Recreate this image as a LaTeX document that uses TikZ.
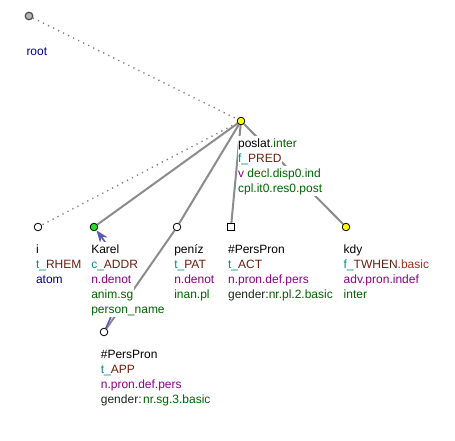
\documentclass[tikz,border=0pt]{standalone}
\usepackage{fontspec}
\setmainfont{Liberation Sans}
\usetikzlibrary{arrows.meta,backgrounds}
\definecolor{tfa}{HTML}{008B8B}
\definecolor{fun}{HTML}{6B1E10}
\definecolor{funb}{HTML}{A03020}
\definecolor{sem}{HTML}{8B008B}
\definecolor{gram}{HTML}{006400}
\definecolor{nav}{HTML}{00008B}
\definecolor{gname}{HTML}{1E2A1E}
\definecolor{edgegray}{HTML}{8C8C8C}
\definecolor{corefblue}{HTML}{5A5AB4}
\definecolor{rootgray}{HTML}{B4B4B4}
\definecolor{nodeyellow}{HTML}{FFFF00}
\definecolor{nodegreen}{HTML}{22E022}
\newcommand\Ctfa[1]{\textcolor{tfa}{#1}}
\newcommand\Cfun[1]{\textcolor{fun}{#1}}
\newcommand\Cfunb[1]{\textcolor{funb}{#1}}
\newcommand\Csem[1]{\textcolor{sem}{#1}}
\newcommand\Cgram[1]{\textcolor{gram}{#1}}
\newcommand\Cnav[1]{\textcolor{nav}{#1}}
\newcommand\Cgname[1]{\textcolor{gname}{#1}}
\newcommand\labelstack[4]{%
  \foreach \t [count=\k] in {#4} {%
    \node[lbl] (#1-\k) at (#2,{#3+15*(\k-1)}) {\t};%
  }%
}
\tikzset{
  tnode/.style={circle, draw=black, line width=0.8pt, minimum size=7.6pt, inner sep=0pt},
  snode/.style={rectangle, draw=black, line width=0.8pt, minimum size=7.6pt, inner sep=0pt, fill=white},
  lbl/.style={anchor=base west, inner xsep=0.3pt, inner ysep=0pt, fill=white, text height=11pt, text depth=4pt},
  edg/.style={draw=edgegray, line width=2pt},
  dotedge/.style={draw=edgegray!90!black, line width=1.4pt, dash pattern=on 1.2pt off 4.4pt},
  corefarrow/.style={draw=corefblue, line width=1.6pt, -{Stealth[length=12pt,width=9pt,inset=3.5pt]}},
}
\begin{document}
\begin{tikzpicture}[x=1pt,y=-1pt,font=\fontsize{12}{15}\selectfont]
\useasboundingbox (0,0) rectangle (455,441);
% nodes
\node[tnode, fill=rootgray, draw=black!70, line width=1.2pt] (root) at (29,16) {};
\node[tnode, fill=nodeyellow] (poslat) at (241,121) {};
\node[tnode, fill=white] (i) at (38,227) {};
\node[tnode, fill=nodegreen] (karel) at (94,227) {};
\node[tnode, fill=white] (peniz) at (177,227) {};
\node[snode] (act) at (231,227) {};
\node[tnode, fill=nodeyellow] (kdy) at (346,227) {};
\node[tnode, fill=white] (app) at (104,332) {};
% labels
\node[lbl] (root-1) at (26,56) {\Cnav{root}};
\labelstack{poslatlbl}{237.6}{147}{poslat\Cgram{.inter},\Ctfa{f\_}\Cfun{PRED},\Csem{v}\ \Cgram{decl.disp0.ind},\Cgram{cpl.it0.res0.post}}
\labelstack{ilbl}{35.5}{253}{i,\Ctfa{t\_}\Cfun{RHEM},\Cnav{atom}}
\labelstack{karellbl}{90.8}{253}{Karel,\Ctfa{c\_}\Cfun{ADDR},\Csem{n.denot},\Cgram{anim.sg},\Cgram{person\_name}}
\labelstack{penizlbl}{173.8}{253}{peníz,\Ctfa{t\_}\Cfun{PAT},\Csem{n.denot},\Cgram{inan.pl}}
\labelstack{actlbl}{227.6}{253}{\#PersPron,\Ctfa{t\_}\Cfun{ACT},\Csem{n.pron.def.pers},\Cgname{gender:}\Cgram{nr.pl.2.basic}}
\labelstack{kdylbl}{343.2}{253}{kdy,\Ctfa{f\_}\Cfun{TWHEN}\Cfunb{.basic},\Csem{adv.pron.indef},\Cgram{inter}}
\labelstack{applbl}{100.4}{358}{\#PersPron,\Ctfa{t\_}\Cfun{APP},\Csem{n.pron.def.pers},\Cgname{gender:}\kern1.5pt\Cgram{nr.sg.3.basic}}
% edges
\begin{pgfonlayer}{background}
\fill[white] (0,0) rectangle (455,441);
\draw[dotedge] (root) -- (poslat);
\draw[dotedge] (poslat) -- (i);
\draw[edg] (poslat) -- (karel);
\draw[edg] (poslat) -- (peniz);
\draw[edg] (poslat) -- (act);
\draw[edg] (poslat) -- (kdy);
\draw[edg] (peniz) -- (app);
\draw[corefarrow] (app) .. controls +(22,-45) and +(24,32) .. (karel);
\end{pgfonlayer}
\end{tikzpicture}
\end{document}
